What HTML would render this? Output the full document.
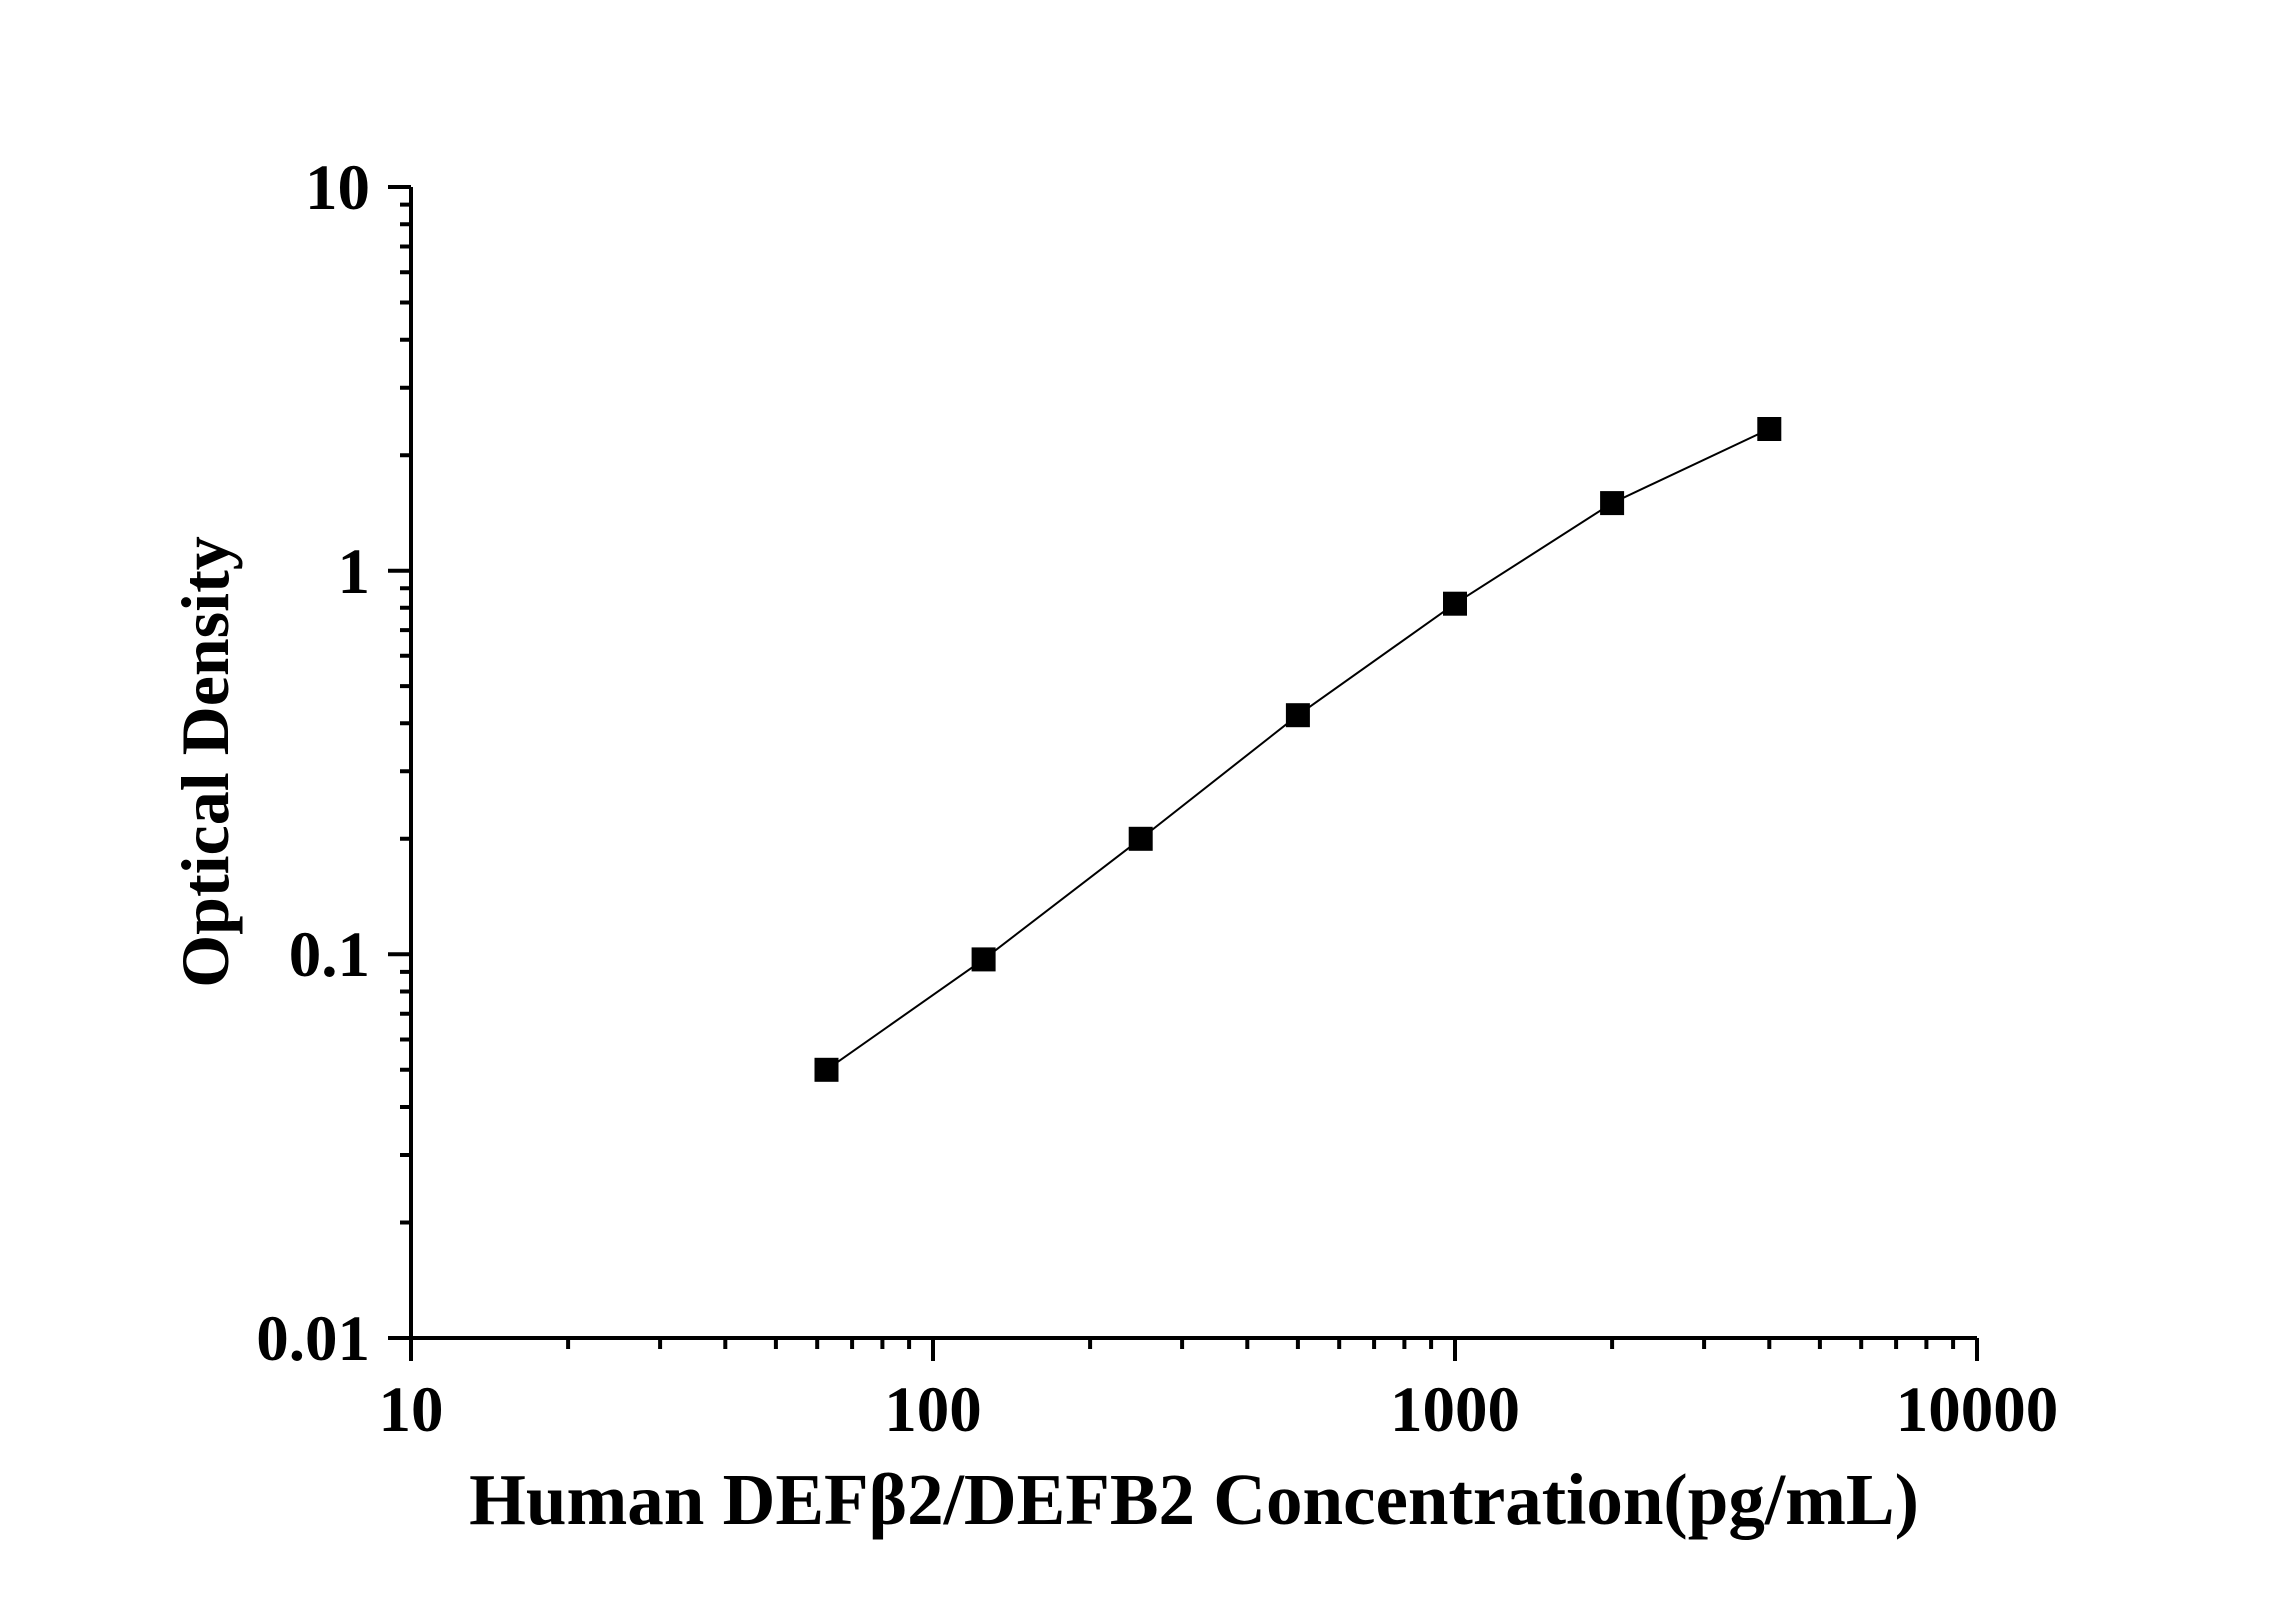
<!DOCTYPE html>
<html><head><meta charset="utf-8"><style>body{margin:0;background:#fff}svg{display:block}</style></head>
<body>
<svg width="2296" height="1604" viewBox="0 0 2296 1604" xmlns="http://www.w3.org/2000/svg" font-family="Liberation Serif, serif" font-weight="bold">
<rect width="2296" height="1604" fill="#fff"/>
<g stroke="#000" stroke-width="4" fill="none">
<path d="M411 187V1338H1977"/>
<path d="M411 1338v23M933 1338v23M1455 1338v23M1977 1338v23"/>
<path d="M568.1 1338v11M660.1 1338v11M725.3 1338v11M775.9 1338v11M817.2 1338v11M852.1 1338v11M882.4 1338v11M909.1 1338v11"/>
<path d="M1090.1 1338v11M1182.1 1338v11M1247.3 1338v11M1297.9 1338v11M1339.2 1338v11M1374.1 1338v11M1404.4 1338v11M1431.1 1338v11"/>
<path d="M1612.1 1338v11M1704.1 1338v11M1769.3 1338v11M1819.9 1338v11M1861.2 1338v11M1896.1 1338v11M1926.4 1338v11M1953.1 1338v11"/>
<path d="M411 1338h-23M411 954.3h-23M411 570.7h-23M411 187h-23"/>
<path d="M411 1222.5h-11M411 1155h-11M411 1107h-11M411 1069.8h-11M411 1039.5h-11M411 1013.8h-11M411 991.5h-11M411 971.9h-11"/>
<path d="M411 838.8h-11M411 771.3h-11M411 723.3h-11M411 686.1h-11M411 655.8h-11M411 630.1h-11M411 607.8h-11M411 588.2h-11"/>
<path d="M411 455.2h-11M411 387.7h-11M411 339.7h-11M411 302.5h-11M411 272.2h-11M411 246.5h-11M411 224.2h-11M411 204.6h-11"/>
</g>
<g font-size="65" fill="#000">
<text x="370" y="1360" text-anchor="end">0.01</text>
<text x="370" y="976" text-anchor="end">0.1</text>
<text x="370" y="593" text-anchor="end">1</text>
<text x="370" y="209" text-anchor="end">10</text>
<text x="411" y="1431" text-anchor="middle">10</text>
<text x="933" y="1431" text-anchor="middle">100</text>
<text x="1455" y="1431" text-anchor="middle">1000</text>
<text x="1977" y="1431" text-anchor="middle">10000</text>
</g>
<polyline fill="none" stroke="#000" stroke-width="2" points="826.5,1069.8 983.6,959.4 1140.7,838.8 1297.9,715.2 1455,603.7 1612.1,503.1 1769.3,429"/>
<g fill="#000">
<rect x="814.5" y="1057.8" width="24" height="24"/>
<rect x="971.6" y="947.4" width="24" height="24"/>
<rect x="1128.7" y="826.8" width="24" height="24"/>
<rect x="1285.9" y="703.2" width="24" height="24"/>
<rect x="1443" y="591.7" width="24" height="24"/>
<rect x="1600.1" y="491.1" width="24" height="24"/>
<rect x="1757.3" y="417" width="24" height="24"/>
</g>
<text x="228" y="762" font-size="68" text-anchor="middle" transform="rotate(-90 228 762)">Optical Density</text>
<text x="1194" y="1524" font-size="73" text-anchor="middle">Human DEFβ2/DEFB2 Concentration(pg/mL)</text>
</svg>
</body></html>
